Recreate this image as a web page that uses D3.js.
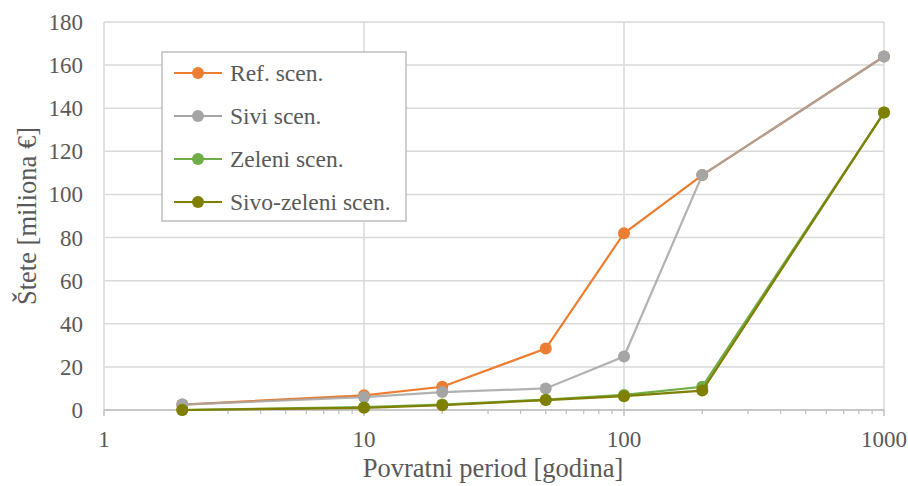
<!DOCTYPE html>
<html>
<head>
<meta charset="utf-8">
<script src="https://cdn.jsdelivr.net/npm/d3@7"></script>
<style>
  body { margin: 0; background: #fff; }
  text { font-family: "Liberation Serif", "Times New Roman", serif; }
</style>
</head>
<body>
<div id="chart"></div>
<script>
// --- Data ---
const periods = [2, 10, 20, 50, 100, 200, 1000];
const refScen = [2.5, 6.8, 10.8, 28.5, 82, 109, 164];
const siviScen = [2.5, 6.0, 8.3, 10, 24.8, 109, 164];
const zeleniScen = [0, 1.3, 2.5, 4.8, 7.0, 10.8, 138];
const sivoZeleniScen = [0, 1.0, 2.2, 4.6, 6.4, 9.0, 138];
const seriesNames = ["Ref. scen.", "Sivi scen.", "Zeleni scen.", "Sivo-zeleni scen."];
const seriesColors = ["#ED7D31", "#A5A5A5", "#70AD47", "#7F7F00"];
const yTicks = [0, 20, 40, 60, 80, 100, 120, 140, 160, 180];
const xTicks = [1, 10, 100, 1000];

const W = 908, H = 486;
const m = { left: 104, right: 24, top: 22, bottom: 76 };

const svg = d3.select("#chart").append("svg").attr("width", W).attr("height", H);

const x = d3.scaleLog().domain([1, 1000]).range([m.left, W - m.right]);
const y = d3.scaleLinear().domain([0, 180]).range([H - m.bottom, m.top]);

// --- Grid ---
svg.append("g").selectAll("line").data(yTicks).join("line")
  .attr("x1", m.left).attr("x2", W - m.right)
  .attr("y1", d => y(d)).attr("y2", d => y(d))
  .attr("stroke", "#d9d9d9").attr("stroke-width", 1.5);
svg.append("g").selectAll("line").data(xTicks).join("line")
  .attr("x1", d => x(d)).attr("x2", d => x(d))
  .attr("y1", m.top).attr("y2", y(0))
  .attr("stroke", "#d9d9d9").attr("stroke-width", 1.5);

// --- X axis line + ticks ---
const minor = [];
for (const dec of [1, 10, 100]) for (let k = 2; k <= 9; k++) minor.push(dec * k);
svg.append("line")
  .attr("x1", m.left).attr("x2", W - m.right)
  .attr("y1", y(0)).attr("y2", y(0))
  .attr("stroke", "#bfbfbf").attr("stroke-width", 1.5);
svg.append("g").selectAll("line").data(minor).join("line")
  .attr("x1", d => x(d)).attr("x2", d => x(d))
  .attr("y1", y(0)).attr("y2", y(0) + 4)
  .attr("stroke", "#bfbfbf").attr("stroke-width", 1.2);
svg.append("g").selectAll("line").data(xTicks).join("line")
  .attr("x1", d => x(d)).attr("x2", d => x(d))
  .attr("y1", y(0)).attr("y2", y(0) + 6)
  .attr("stroke", "#bfbfbf").attr("stroke-width", 1.5);

// --- Tick labels ---
svg.append("g").selectAll("text").data(yTicks).join("text")
  .attr("x", 83).attr("y", d => y(d)).attr("dy", "0.35em")
  .attr("text-anchor", "end").attr("fill", "#595959").attr("font-size", 23)
  .text(d => d);
svg.append("g").selectAll("text").data(xTicks).join("text")
  .attr("x", d => x(d)).attr("y", 447)
  .attr("text-anchor", "middle")
  .attr("fill", "#595959").attr("font-size", 23)
  .text(d => d);

// --- Axis titles ---
svg.append("text")
  .attr("x", 493).attr("y", 477)
  .attr("text-anchor", "middle").attr("fill", "#595959").attr("font-size", 26.5)
  .text("Povratni period [godina]");
svg.append("text")
  .attr("transform", `translate(36,${(m.top + y(0)) / 2}) rotate(-90)`)
  .attr("text-anchor", "middle").attr("fill", "#595959").attr("font-size", 26.5)
  .text("Štete [miliona €]");

// --- Series ---
const allSeries = [refScen, siviScen, zeleniScen, sivoZeleniScen];
const line = d3.line().x((d, i) => x(periods[i])).y(d => y(d));

allSeries.forEach((vals, s) => {
  const g = svg.append("g");
  g.append("path").datum(vals)
    .attr("d", line).attr("fill", "none")
    .attr("stroke", seriesColors[s]).attr("stroke-width", 2.2)
    .attr("stroke-opacity", s === 1 ? 0.85 : 1);
  g.selectAll("circle").data(vals).join("circle")
    .attr("cx", (d, i) => x(periods[i])).attr("cy", d => y(d))
    .attr("r", 6).attr("fill", seriesColors[s]);
});

// --- Legend ---
const lg = svg.append("g").attr("transform", "translate(162,52)");
lg.append("rect").attr("width", 244).attr("height", 169)
  .attr("fill", "#fff").attr("stroke", "#bfbfbf").attr("stroke-width", 1.5);
const items = lg.selectAll("g").data(seriesNames).join("g")
  .attr("transform", (d, i) => `translate(0,${21 + i * 43})`);
items.append("line").attr("x1", 12).attr("x2", 60)
  .attr("stroke", (d, i) => seriesColors[i]).attr("stroke-width", 2.2);
items.append("circle").attr("cx", 36).attr("r", 6)
  .attr("fill", (d, i) => seriesColors[i]);
items.append("text").attr("x", 68).attr("dy", "0.35em")
  .attr("fill", "#595959").attr("font-size", 23.5)
  .text(d => d);
</script>
</body>
</html>
